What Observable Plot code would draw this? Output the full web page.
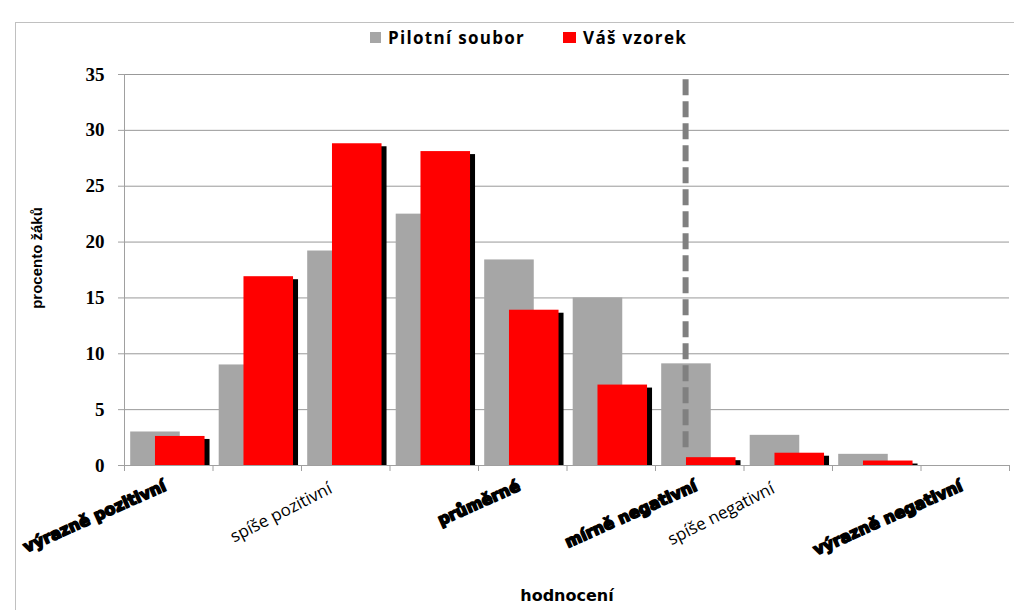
<!DOCTYPE html>
<html><head><meta charset="utf-8">
<script src="https://cdn.jsdelivr.net/npm/d3@7"></script>
<script src="https://cdn.jsdelivr.net/npm/@observablehq/plot@0.6"></script>
<style>
body{margin:0;background:#fff;}
#wrap{position:relative;width:1014px;height:610px;overflow:hidden;background:#fff;}
#frame{position:absolute;left:15px;top:22px;width:1100px;height:700px;border:1px solid #c0c0c0;box-sizing:border-box;}
#legend{position:absolute;top:26px;left:370px;font-family:"Open Sans",sans-serif;font-weight:bold;font-size:17px;letter-spacing:1.3px;color:#000;display:flex;align-items:center;white-space:nowrap;}
#legend .sw{display:inline-block;width:11px;height:11px;margin-right:7px;}
#plot{position:absolute;left:0;top:0;}
</style>
</head><body>
<div id="wrap">
  <div id="frame"></div>
  <div id="plot"></div>
  <div id="legend"></div>
</div>
<script>
// ---- data ----
const categoryLabels = ["výrazně pozitivní", "", "spíše pozitivní", "", "průměrné", "", "mírně negativní", "spíše negativní", "", "výrazně negativní"];
const boldLabel = [true, false, false, false, true, false, true, false, false, true];
const pilotValues = [3.0, 9.0, 19.2, 22.5, 18.4, 15.0, 9.1, 2.7, 1.0, 0];
const sampleValues = [2.6, 16.9, 28.8, 28.1, 13.9, 7.2, 0.7, 1.1, 0.4, 0];
const seriesNames = ["Pilotní soubor", "Váš vzorek"];
const yTicks = [0, 5, 10, 15, 20, 25, 30, 35];
const markerPosition = 6.34;      // dashed reference line (category units)
const markerRange = [1.6, 35];
const xTitle = "hodnocení";
const yTitle = "procento žáků";

// ---- layout / style ----
const colors = {pilot: "#a6a6a6", sample: "#ff0000", shadow: "#000000", marker: "#808080", grid: "#999999", axis: "#a0a0a0"};
const pilotSlot = [0.07, 0.63];
const sampleSlot = [0.35, 0.91];

const rows = categoryLabels.map((label, i) => ({i, label, bold: boldLabel[i], pilot: pilotValues[i], sample: sampleValues[i]}));
const n = categoryLabels.length;

const chart = Plot.plot({
  width: 1014,
  height: 610,
  marginTop: 74,
  marginBottom: 145,
  marginLeft: 124,
  marginRight: 5,
  x: {domain: [0, n], axis: null},
  y: {domain: [0, 35], axis: null},
  style: {background: "transparent", overflow: "visible"},
  marks: [
    Plot.gridY(yTicks, {stroke: colors.grid, strokeOpacity: 1}),
    Plot.rectY(rows.filter(d => d.pilot > 0), {x1: d => d.i + pilotSlot[0], x2: d => d.i + pilotSlot[1], y1: 0, y2: "pilot", fill: colors.pilot}),
    Plot.rectY(rows.filter(d => d.sample > 0), {x1: d => d.i + sampleSlot[0], x2: d => d.i + sampleSlot[1], y1: 0, y2: "sample", fill: colors.shadow, dx: 5, insetTop: 3}),
    Plot.rectY(rows.filter(d => d.sample > 0), {x1: d => d.i + sampleSlot[0], x2: d => d.i + sampleSlot[1], y1: 0, y2: "sample", fill: colors.sample}),
    Plot.ruleX([markerPosition], {y1: markerRange[0], y2: markerRange[1], stroke: colors.marker, strokeWidth: 6, strokeDasharray: "16,6"}),
    Plot.ruleY([0], {stroke: colors.axis}),
    Plot.ruleX([0], {stroke: colors.axis}),
    Plot.axisX(d3.range(0, n + 1), {tickSize: 6, tickFormat: () => "", stroke: colors.axis, label: null}),
    Plot.axisY(yTicks, {tickSize: 6, tickPadding: 14, stroke: colors.axis, fill: "#000", fontFamily: "Liberation Serif", fontWeight: "bold", fontSize: 19, label: null}),
    Plot.text(rows.filter(d => d.label && !d.bold), {x: d => d.i + 0.5, y: 0, text: "label", rotate: -27, textAnchor: "end", lineAnchor: "top", dx: -18, dy: 16, fontFamily: "Open Sans", fontSize: 17, letterSpacing: 0.6, fill: "#000"}),
    Plot.text(rows.filter(d => d.label && d.bold), {x: d => d.i + 0.5, y: 0, text: "label", rotate: -24, textAnchor: "end", lineAnchor: "top", dx: -6, dy: 14, fontFamily: "DejaVu Sans", fontWeight: "bold", fontSize: 16, fill: "#000", stroke: "#000", strokeWidth: 1.6}),
    Plot.text([yTitle], {frameAnchor: "left", textAnchor: "middle", dx: -87, dy: -12, rotate: -90, fontFamily: "Liberation Sans", fontWeight: "bold", fontSize: 15, fill: "#000"}),
    Plot.text([xTitle], {frameAnchor: "bottom", dy: 135, fontFamily: "DejaVu Sans", fontWeight: "bold", fontSize: 16, fill: "#000"})
  ]
});
document.getElementById("plot").appendChild(chart);

const legend = document.getElementById("legend");
[[seriesNames[0], colors.pilot], [seriesNames[1], colors.sample]].forEach(([name, c], k) => {
  const item = document.createElement("span");
  item.style.display = "inline-flex";
  item.style.alignItems = "center";
  item.style.marginRight = k === 0 ? "38px" : "0";
  const sw = document.createElement("span");
  sw.className = "sw";
  sw.style.background = c;
  if (k === 1) sw.style.width = "13px";
  item.appendChild(sw);
  item.appendChild(document.createTextNode(name));
  legend.appendChild(item);
});
</script>
</body></html>
